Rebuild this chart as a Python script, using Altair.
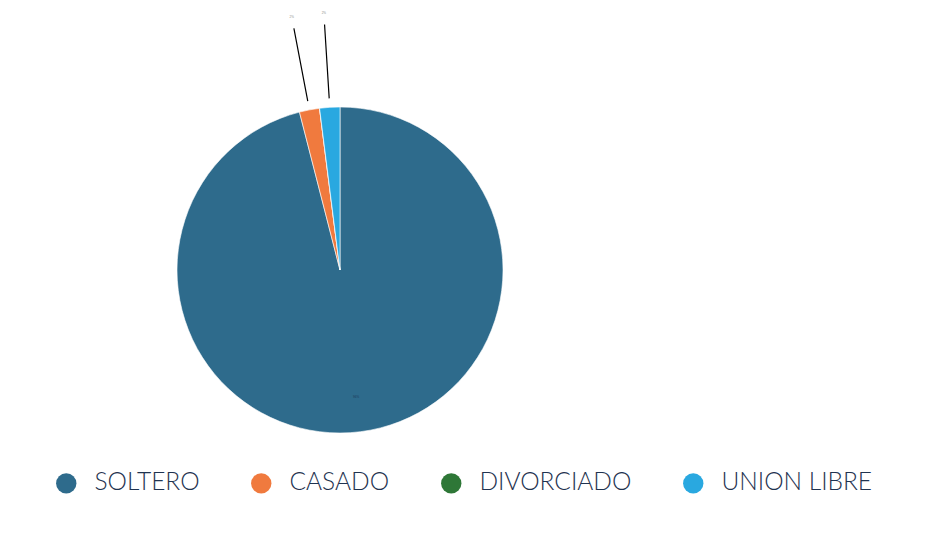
import altair as alt
import pandas as pd

categories = ["SOLTERO", "CASADO", "DIVORCIADO", "UNION LIBRE"]
values = [48, 1, 0, 1]
order_idx = [0, 1, 2, 3]
colors = ["#2e6b8c", "#f07a3e", "#2e7737", "#29a8e0"]

df = pd.DataFrame({"estado": categories, "valor": values, "orden": order_idx})

CX, CY = 332, 262
R = 163

base = (
    alt.Chart(df)
    .transform_joinaggregate(total="sum(valor)")
    .transform_window(cum="sum(valor)", sort=[alt.SortField("orden")], frame=[None, 0])
    .transform_calculate(
        start="(datum.cum - datum.valor) / datum.total * 2 * PI",
        end="datum.cum / datum.total * 2 * PI",
        mid="(datum.cum - datum.valor / 2) / datum.total * 2 * PI",
        share="datum.valor / datum.total",
        pct="format(datum.valor / datum.total, '.0%')",
    )
)

legend = alt.Legend(
    orient="none",
    direction="horizontal",
    legendX=46,
    legendY=463,
    title=None,
    symbolType="circle",
    symbolSize=415,
    symbolStrokeWidth=0,
    labelFont="Lato",
    labelFontSize=24.5,
    labelFontWeight=300,
    labelColor="#1f3350",
    labelOffset=16,
    columnPadding=49,
    padding=0,
    labelLimit=300,
)

pie = base.mark_arc(outerRadius=R, stroke="white", strokeWidth=0.6, x=CX, y=CY).encode(
    theta=alt.Theta("start:Q", scale=None),
    theta2="end:Q",
    color=alt.Color(
        "estado:N",
        scale=alt.Scale(domain=categories, range=colors),
        sort=categories,
        legend=legend,
    ),
)

leaders = (
    base.transform_filter("datum.share > 0 && datum.share < 0.1")
    .mark_arc(radius=172, radius2=246, stroke="black", strokeWidth=1.2, x=CX, y=CY)
    .encode(theta=alt.Theta("mid:Q", scale=None), theta2="mid:Q")
)

outer_labels = (
    base.transform_filter("datum.share > 0 && datum.share < 0.1")
    .mark_text(radius=258, fontSize=3, color="#8a8a8a", x=CX, y=CY)
    .encode(theta=alt.Theta("mid:Q", scale=None), text="pct:N")
)

inner_labels = (
    base.transform_filter("datum.share >= 0.1")
    .mark_text(radius=128, fontSize=3, color="#1d3a5a", x=CX, y=CY)
    .encode(theta=alt.Theta("mid:Q", scale=None), text="pct:N")
)

chart = (
    alt.layer(pie, leaders, outer_labels, inner_labels)
    .properties(width=911, height=519, autosize=alt.AutoSizeParams(type="none"), padding=0)
    .configure_view(stroke="#d6e6f4", strokeWidth=2)
)

chart.save("out.html", embed_options={"renderer": "svg", "actions": False})
